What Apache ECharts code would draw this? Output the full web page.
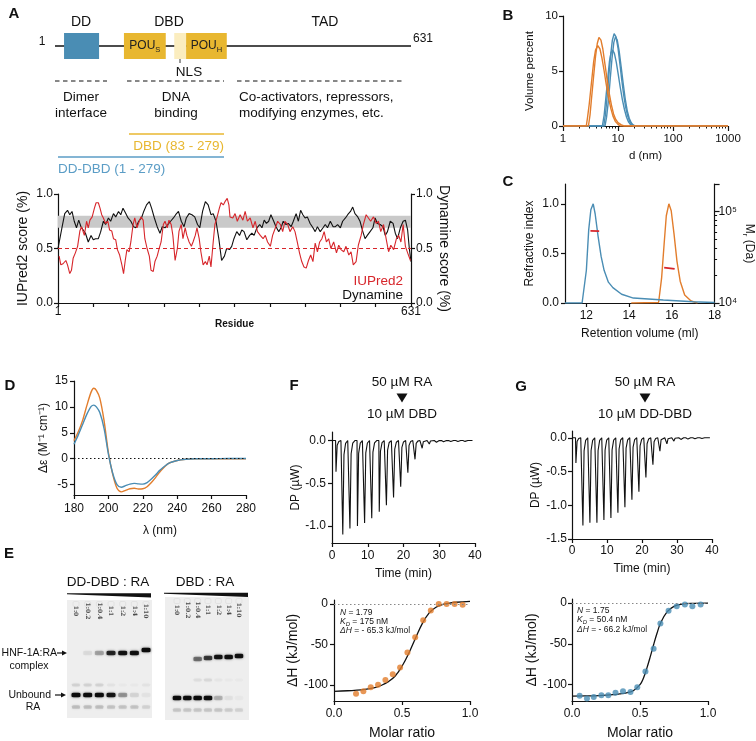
<!DOCTYPE html>
<html>
<head>
<meta charset="utf-8">
<script src="https://cdn.jsdelivr.net/npm/echarts@6/dist/echarts.min.js"></script>
<style>
  html, body { margin: 0; padding: 0; background: #fff; }
  #chart { width: 756px; height: 741px; }
</style>
</head>
<body>
<div id="chart"></div>
<script>
// ---------- data ----------
// A: domain map (residue ranges)
const domainNames = ['DD', 'POU_S', 'NLS', 'POU_H'];
const domainStart = [17, 123, 212, 233];
const domainEnd = [79, 197, 233, 305];

// A: disorder / dynamics profiles
const dynRes = [1, 8, 13, 18, 22, 26, 30, 34, 38, 42, 46, 50, 55, 60, 64, 68, 73, 77, 82, 86,
  91, 95, 100, 104, 109, 113, 117, 122, 126, 131, 136, 140, 145, 150, 154, 159, 164, 168, 173, 178,
  183, 187, 192, 197, 202, 207, 211, 216, 221, 226, 230, 235, 240, 245, 250, 254, 259, 264, 269, 274,
  278, 283, 288, 293, 298, 302, 307,
  311, 315, 320, 325, 329, 333, 338, 343, 347, 351, 356, 361, 365, 369, 373, 377, 381, 386, 390, 395,
  399, 403, 408, 412, 417, 421, 426, 430, 434, 438, 442, 446, 451, 456, 460, 464, 469, 474, 478, 482,
  487, 492, 496, 500, 505, 509, 514, 518, 523, 527, 531, 536, 540, 545, 549, 553, 558, 563, 567, 571,
  576, 581, 585, 589, 594, 599, 603, 607, 612, 617, 621, 625, 628, 631];
const dynScore = [0.50, 0.69, 0.82, 0.85, 0.81, 0.84, 0.75, 0.69, 0.76, 0.70, 0.67, 0.64, 0.56, 0.62, 0.58, 0.59, 0.59, 0.65, 0.75, 0.72,
  0.78, 0.75, 0.82, 0.79, 0.84, 0.81, 0.87, 0.82, 0.78, 0.75, 0.70, 0.69, 0.75, 0.78, 0.84, 0.90, 0.93, 0.87, 0.78, 0.70,
  0.64, 0.70, 0.69, 0.72, 0.75, 0.78, 0.81, 0.84, 0.75, 0.70, 0.78, 0.82, 0.81, 0.79, 0.72, 0.69, 0.84, 0.93, 0.90, 0.81,
  0.82, 0.75, 0.59, 0.39, 0.43, 0.50, 0.49,
  0.52, 0.59, 0.655, 0.62, 0.67, 0.655, 0.58, 0.62, 0.64, 0.62, 0.69, 0.72, 0.69, 0.76, 0.73, 0.75, 0.81, 0.75, 0.70, 0.655,
  0.69, 0.75, 0.72, 0.73, 0.70, 0.75, 0.82, 0.75, 0.85, 0.81, 0.78, 0.79, 0.73, 0.69, 0.655, 0.70, 0.655, 0.69, 0.72, 0.69,
  0.75, 0.70, 0.70, 0.72, 0.69, 0.75, 0.78, 0.81, 0.84, 0.88, 0.82, 0.79, 0.75, 0.655, 0.59, 0.62, 0.655, 0.69, 0.78, 0.73,
  0.72, 0.70, 0.62, 0.655, 0.75, 0.73, 0.64, 0.59, 0.69, 0.75, 0.76, 0.67, 0.50, 0.38];
const iuRes = [3, 6, 10, 15, 18, 22, 25, 28, 32, 36, 40, 43, 48, 52, 55, 58, 62, 66, 69, 73,
  76, 79, 82, 86, 90, 93, 97, 100, 104, 107, 111, 115, 118, 121, 124, 128, 131, 135, 138, 142,
  146, 149, 153, 156, 160, 164, 167, 171, 174, 178, 181, 185, 189, 192, 196, 199, 203, 206, 210, 214,
  217, 221, 224, 228, 231, 235, 239, 242, 246, 249, 253, 256, 260, 264, 267, 271, 274, 278, 281, 285,
  289, 292, 296, 299, 303, 306,
  308, 313, 317, 321, 326, 331, 335, 339, 344, 349, 353, 357, 362, 367, 371, 375, 380, 384, 389, 393,
  398, 402, 406, 411, 415, 420, 424, 428, 432, 436, 440, 444, 448, 452, 456, 460, 464, 468, 472, 476,
  480, 484, 488, 493, 498, 502, 506, 511, 515, 520, 524, 528, 533, 537, 542, 546, 551, 555, 559, 564,
  569, 573, 577, 582, 587, 591, 595, 600, 605, 609, 613, 617, 621, 625, 630];
const iuScore = [0.43, 0.35, 0.36, 0.39, 0.35, 0.27, 0.30, 0.41, 0.46, 0.52, 0.66, 0.70, 0.62, 0.75, 0.69, 0.76, 0.79, 0.87, 0.92, 0.92,
  0.87, 0.81, 0.78, 0.73, 0.75, 0.67, 0.66, 0.59, 0.58, 0.49, 0.44, 0.35, 0.27, 0.39, 0.49, 0.47, 0.56, 0.72, 0.78, 0.69,
  0.75, 0.79, 0.76, 0.59, 0.50, 0.43, 0.30, 0.29, 0.38, 0.43, 0.49, 0.56, 0.72, 0.75, 0.69, 0.76, 0.72, 0.62, 0.39, 0.50,
  0.66, 0.72, 0.59, 0.69, 0.62, 0.56, 0.52, 0.56, 0.62, 0.69, 0.59, 0.47, 0.35, 0.38, 0.35, 0.43, 0.33, 0.56, 0.72, 0.79,
  0.87, 0.92, 0.90, 0.93, 0.96, 0.90,
  0.79, 0.78, 0.82, 0.75, 0.81, 0.76, 0.84, 0.75, 0.78, 0.69, 0.75, 0.655, 0.62, 0.59, 0.62, 0.56, 0.52, 0.62, 0.69, 0.75,
  0.72, 0.655, 0.75, 0.72, 0.655, 0.70, 0.655, 0.56, 0.46, 0.38, 0.33, 0.32, 0.39, 0.44, 0.38, 0.55, 0.47, 0.56, 0.59, 0.655,
  0.56, 0.59, 0.50, 0.56, 0.46, 0.53, 0.49, 0.47, 0.52, 0.44, 0.47, 0.35, 0.38, 0.53, 0.62, 0.72, 0.81, 0.78, 0.75, 0.79,
  0.73, 0.75, 0.655, 0.72, 0.58, 0.47, 0.53, 0.49, 0.59, 0.62, 0.56, 0.72, 0.52, 0.46, 0.39];
const residueTicks = [1, 64, 127, 190, 253, 316, 379, 442, 505, 568, 631];
const residueLabels = [1, 631];

// B: DLS volume distributions [d (nm), volume %]
const dlsDbd1 = [[1, 0], [2.9, 0], [3.1, 1.0], [3.3, 2.5], [3.6, 4.5], [3.9, 6.3], [4.2, 7.5], [4.5, 8.05], [4.9, 7.8], [5.3, 7.0], [5.8, 5.6], [6.3, 4.3], [6.9, 3.0], [7.6, 1.9], [8.3, 1.1], [9.1, 0.6], [10, 0.3], [11.5, 0.1], [13, 0], [1000, 0]];
const dlsDbd2 = [[1, 0], [2.65, 0], [2.8, 0.8], [3.0, 2.0], [3.3, 4.0], [3.6, 5.8], [3.9, 6.9], [4.3, 7.3], [4.7, 7.0], [5.1, 6.2], [5.6, 5.0], [6.1, 3.8], [6.7, 2.6], [7.4, 1.6], [8.1, 0.9], [9, 0.4], [10, 0.15], [11, 0], [1000, 0]];
const dlsDdDbd1 = [[1, 0], [5.5, 0], [5.9, 1.0], [6.3, 2.5], [6.8, 4.5], [7.3, 6.3], [7.9, 7.8], [8.5, 8.4], [9.2, 8.1], [10, 7.1], [10.8, 5.7], [11.7, 4.2], [12.7, 2.8], [13.8, 1.7], [15, 0.9], [16.3, 0.4], [17.7, 0.15], [19.3, 0.05], [21, 0], [1000, 0]];
const dlsDdDbd2 = [[1, 0], [5.8, 0], [6.2, 0.8], [6.7, 2.3], [7.2, 4.2], [7.8, 6.2], [8.4, 7.6], [9.0, 8.1], [9.7, 7.8], [10.5, 6.8], [11.4, 5.4], [12.4, 3.9], [13.5, 2.5], [14.7, 1.4], [16, 0.7], [17.4, 0.3], [19, 0.08], [21, 0], [1000, 0]];
const dlsDdDbd3 = [[1, 0], [5.2, 0], [5.6, 1.0], [6.0, 2.5], [6.5, 4.3], [7.0, 5.9], [7.5, 6.7], [8.0, 6.9], [8.6, 6.6], [9.3, 5.8], [10.1, 4.7], [11, 3.5], [12, 2.4], [13.1, 1.5], [14.3, 0.8], [15.6, 0.35], [17, 0.1], [18.5, 0], [1000, 0]];
const dlsMinorTicks = [2, 3, 4, 5, 6, 7, 8, 9, 20, 30, 40, 50, 60, 70, 80, 90, 200, 300, 400, 500, 600, 700, 800, 900];

// C: SEC-MALS [retention volume (ml), normalised RI] and molar mass [ml, Da]
const secDdDbd = [[11, 0], [11.8, 0], [11.89, 0.01], [12.0, 0.33], [12.11, 0.74], [12.21, 0.94], [12.32, 1.0], [12.41, 0.9], [12.55, 0.67], [12.69, 0.47], [12.83, 0.33], [13.03, 0.21], [13.24, 0.155], [13.65, 0.088], [14.2, 0.05], [15.6, 0.03], [17, 0.012], [18, 0.005]];
const secDbd = [[14.1, 0], [15.38, 0.005], [15.52, 0.25], [15.64, 0.6], [15.74, 0.88], [15.86, 1.0], [15.97, 0.93], [16.1, 0.7], [16.24, 0.42], [16.39, 0.22], [16.6, 0.08], [16.9, 0.02], [17.2, 0]];
const massDdDbd = [[12.19, 61400], [12.6, 61200]];
const massDbd = [[15.64, 24300], [16.13, 23600]];
const massMinorTicks = [20000, 30000, 40000, 50000, 60000, 70000, 80000, 90000, 200000];

// D: CD spectra
const cdLambda = [180, 182.5, 185, 187.5, 190, 191.5, 193, 195, 197.5, 200, 202.5, 205, 207.5, 210, 212.5, 215, 217.5, 220, 222.5, 225, 227.5, 230, 235, 240, 245, 250, 260, 270, 280];
const cdDbd = [3.5, 5.2, 7.4, 10.3, 12.9, 13.6, 13.2, 11.7, 7.3, 1.2, -3.0, -5.7, -6.4, -6.1, -5.8, -5.7, -5.85, -5.8, -5.4, -4.6, -3.6, -2.5, -0.9, -0.35, -0.1, 0, 0, 0, 0];
const cdDdDbd = [2.8, 4.6, 6.6, 8.6, 10.1, 10.35, 10.0, 8.9, 5.8, 0.9, -2.8, -5.0, -5.5, -5.2, -4.9, -4.75, -4.85, -4.9, -4.6, -3.9, -3.1, -2.2, -0.9, -0.35, -0.1, 0, 0, 0.05, 0.05];

// E: EMSA band intensities per lane (0-1) and migration (px from gel top)
const gelLanes = ['1:0', '1:0.2', '1:0.4', '1:1', '1:2', '1:4', '1:10'];
const ddComplex = [0, 0.06, 0.25, 0.8, 0.9, 0.92, 0.95];
const ddComplexMig = [53, 53, 53, 53, 53, 53, 50];
const ddUnbound = [0.95, 0.95, 0.95, 0.9, 0.3, 0.08, 0.03];
const ddUnboundMig = [95, 95, 95, 95, 95, 95, 95];
const ddLow = [0.18, 0.18, 0.18, 0.16, 0.16, 0.16, 0.1];
const ddLowMig = [107, 107, 107, 107, 107, 107, 107];
const ddFaint = [0.1, 0.1, 0.1, 0.04, 0.02, 0.02, 0.04];
const ddFaintMig = [85, 85, 85, 85, 85, 85, 85];
const dbdComplex = [0, 0, 0.45, 0.7, 0.9, 0.92, 0.92];
const dbdComplexMig = [60, 60, 62, 61, 60, 60, 59];
const dbdUnbound = [0.95, 0.95, 0.95, 0.95, 0.2, 0.04, 0.02];
const dbdUnboundMig = [101, 101, 101, 101, 101, 101, 101];
const dbdLow = [0.15, 0.15, 0.15, 0.15, 0.15, 0.12, 0.1];
const dbdLowMig = [113, 113, 113, 113, 113, 113, 113];
const dbdFaint = [0, 0, 0.06, 0.08, 0.03, 0.02, 0.02];
const dbdFaintMig = [83, 83, 83, 83, 83, 83, 83];

// F / G: ITC raw injections (min, peak µW) and integrated heats
const itcFTime = [1.0, 2.9, 4.9, 7.0, 9.0, 11.0, 13.1, 15.1, 17.1, 19.1, 21.1, 23.1, 25.1, 27.1, 29.1, 31.1, 33.1, 35.1, 37.1];
const itcFPeak = [-0.365, -1.10, -1.03, -1.00, -0.965, -0.91, -0.835, -0.757, -0.667, -0.54, -0.376, -0.22, -0.09, -0.04, -0.02, -0.015, -0.012, -0.012, -0.01];
const itcGTime = [1.0, 3.0, 5.0, 7.0, 9.0, 11.0, 13.0, 15.0, 17.0, 19.0, 21.0, 23.0, 25.0, 27.0, 29.0, 31.0, 33.0, 35.0, 37.0];
const itcGPeak = [-0.373, -1.30, -1.26, -1.26, -1.22, -1.19, -1.11, -1.03, -0.92, -0.80, -0.59, -0.40, -0.20, -0.09, -0.05, -0.025, -0.02, -0.015, -0.012];
const fRatio = [0.162, 0.216, 0.27, 0.324, 0.378, 0.432, 0.486, 0.54, 0.597, 0.656, 0.712, 0.77, 0.828, 0.887, 0.946];
const fHeat = [-111, -108, -103, -100, -94, -87, -78.5, -60, -41, -20, -8, 0, 0, 0, -1];
const fFitRatio = [0, 0.1, 0.2, 0.3, 0.35, 0.4, 0.45, 0.5, 0.55, 0.6, 0.65, 0.7, 0.75, 0.8, 0.85, 0.9, 1.0];
const fFitHeat = [-108, -107.3, -106.3, -103.5, -100.5, -96, -89, -77, -61, -42, -24, -11, -4, -0.5, 1.2, 2.2, 3.3];
const gRatio = [0.056, 0.11, 0.16, 0.216, 0.267, 0.32, 0.375, 0.43, 0.48, 0.54, 0.6, 0.65, 0.71, 0.77, 0.83, 0.885, 0.946];
const gHeat = [-113.7, -117, -115, -113, -113, -110, -108, -109, -103, -84, -56, -25, -9.4, -4, -1.6, -4, -1.6];
const gFitRatio = [0, 0.1, 0.2, 0.3, 0.35, 0.4, 0.45, 0.5, 0.525, 0.55, 0.575, 0.6, 0.625, 0.65, 0.7, 0.75, 0.8, 0.9, 1.0];
const gFitHeat = [-114, -113.8, -113.3, -112.3, -111.3, -110, -107.5, -100, -92, -80, -66, -51, -37, -25, -10.5, -4, -1.5, -0.3, 0];

// ---------- style ----------
const FONT = '"Liberation Sans", Arial, Helvetica, sans-serif';
const BLUE = '#4a8db4';
const ORANGE = '#e27d2c';
const RED = '#d7262b';
const GOLD = '#e8b730';
const INK = '#111';

function deepMerge(a, b) {
  for (const k in b) {
    const v = b[k];
    if (v && typeof v === 'object' && !Array.isArray(v) && a[k] && typeof a[k] === 'object' && !Array.isArray(a[k])) {
      deepMerge(a[k], v);
    } else {
      a[k] = v;
    }
  }
  return a;
}

function axis(o, fs, nfs) {
  fs = fs || 12;
  return deepMerge({
    type: 'value',
    axisLine: { show: true, onZero: false, lineStyle: { color: INK, width: 1.2 } },
    axisTick: { show: true, length: 4, lineStyle: { color: INK, width: 1.2 } },
    axisLabel: { color: INK, fontFamily: FONT, fontSize: fs, margin: 6 },
    splitLine: { show: false },
    nameLocation: 'middle',
    nameTextStyle: { color: INK, fontFamily: FONT, fontSize: nfs || fs }
  }, o);
}
function hiddenAxis(o) {
  return Object.assign({ type: 'value', show: false }, o);
}
function tickAxis(o) {
  return deepMerge({
    type: 'value',
    axisLine: { show: false },
    axisLabel: { show: false },
    splitLine: { show: false },
    axisTick: { show: true, length: 2.5, lineStyle: { color: INK, width: 1 } }
  }, o);
}
const fix1 = v => v.toFixed(1);
const zip = (xs, ys) => xs.map((x, i) => [x, ys[i]]);

function lineS(xi, yi, data, color, width, extra) {
  return Object.assign({
    type: 'line', xAxisIndex: xi, yAxisIndex: yi, data: data,
    symbol: 'none', showSymbol: false, silent: true,
    lineStyle: { color: color, width: width || 1.4 }
  }, extra || {});
}

// raw ITC trace: each injection is drawn as a sharp exothermic spike
function itcTrace(times, peaks, tEnd) {
  const pts = [[0, 0]];
  times.forEach((t, i) => {
    const p = peaks[i];
    pts.push([t, 0], [t + 0.12, p], [t + 0.45, p * 0.15], [t + 0.9, p * 0.03], [t + 1.5, 0]);
  });
  pts.push([tEnd, 0]);
  return pts;
}

function bandSeries(xi, yi, intens, mig, size, color) {
  return {
    type: 'scatter', xAxisIndex: xi, yAxisIndex: yi, silent: true,
    symbol: 'roundRect', symbolSize: size, z: 4,
    itemStyle: { color: color || '#050505', shadowBlur: 2.5, shadowColor: 'rgba(0,0,0,0.6)' },
    data: intens.map((v, i) => ({ value: [i + 1, mig[i]], itemStyle: { opacity: v } }))
  };
}
function laneLabelSeries(xi, yi, y) {
  return {
    type: 'scatter', xAxisIndex: xi, yAxisIndex: yi, silent: true, symbolSize: 1, z: 5,
    itemStyle: { color: 'rgba(0,0,0,0)' },
    data: gelLanes.map((l, i) => ({ value: [i + 1, y], name: l })),
    label: { show: true, formatter: '{b}', rotate: -90, position: 'inside',
      fontFamily: '"DejaVu Serif", serif', fontWeight: 'bold', fontSize: 6, color: '#222' }
  };
}
function wellSeries(xi, yi) {
  return {
    type: 'scatter', xAxisIndex: xi, yAxisIndex: yi, silent: true, symbol: 'roundRect',
    symbolSize: [6, 5], z: 3,
    itemStyle: { color: 'rgba(0,0,0,0)', borderColor: '#d6d6d6', borderWidth: 0.6 },
    data: gelLanes.map((l, i) => [i + 1, 4])
  };
}

// ---------- graphic (annotations) ----------
function txt(x, y, text, o) {
  return {
    type: 'text', x: x, y: y, silent: true,
    style: Object.assign({ text: text, fill: INK, fontFamily: FONT, fontSize: 13, align: 'center', verticalAlign: 'middle' }, o || {})
  };
}
function seg(x1, y1, x2, y2, color, w, dash) {
  return {
    type: 'line', silent: true, shape: { x1: x1, y1: y1, x2: x2, y2: y2 },
    style: { stroke: color || INK, lineWidth: w || 1, lineDash: dash || null }
  };
}
function poly(points, fill) {
  return { type: 'polygon', silent: true, shape: { points: points }, style: { fill: fill || INK } };
}
const letter = (x, y, t) => txt(x, y, t, { fontSize: 15, fontWeight: 'bold' });
const italicRich = {
  i: { fontStyle: 'italic', fontSize: 8.5, fontFamily: FONT, fill: '#222' },
  s: { fontStyle: 'italic', fontSize: 6, fontFamily: FONT, fill: '#222', verticalAlign: 'bottom', lineHeight: 11 }
};

const graphics = [
  letter(14, 14, 'A'), letter(508, 16, 'B'), letter(508, 182, 'C'), letter(10, 386, 'D'),
  letter(9, 554, 'E'), letter(294, 386, 'F'), letter(521, 387, 'G'),
  // A diagram labels
  txt(42, 42, '1', { fontSize: 12 }), txt(423, 39, '631', { fontSize: 12 }),
  txt(81, 22, 'DD', { fontSize: 14 }), txt(169, 22, 'DBD', { fontSize: 14 }), txt(325, 22, 'TAD', { fontSize: 14 }),
  seg(180, 50, 180, 63, '#333', 1), txt(189, 72, 'NLS', { fontSize: 13.5 }),
  seg(55, 81, 107, 81, INK, 1, [4.5, 3.5]), seg(127, 81, 224, 81, INK, 1, [4.5, 3.5]), seg(237, 81, 403, 81, INK, 1, [4.5, 3.5]),
  txt(81, 97, 'Dimer', { fontSize: 13.5 }), txt(81, 113, 'interface', { fontSize: 13.5 }),
  txt(176, 97, 'DNA', { fontSize: 13.5 }), txt(176, 113, 'binding', { fontSize: 13.5 }),
  txt(239, 97, 'Co-activators, repressors,', { fontSize: 13.5, align: 'left' }),
  txt(239, 113, 'modifying enzymes, etc.', { fontSize: 13.5, align: 'left' }),
  seg(129, 134, 224, 134, GOLD, 1.5), txt(224, 146, 'DBD (83 - 279)', { fontSize: 13.5, align: 'right', fill: GOLD }),
  seg(58, 157, 224, 157, '#5b9dc6', 1.5), txt(58, 169, 'DD-DBD (1 - 279)', { fontSize: 13.5, align: 'left', fill: '#5b9dc6' }),
  txt(403, 281, 'IUPred2', { fontSize: 13.5, align: 'right', fill: RED }),
  txt(403, 295, 'Dynamine', { fontSize: 13.5, align: 'right' }),
  // E gel annotations
  txt(108, 582, 'DD-DBD : RA', { fontSize: 13.5 }), txt(205, 582, 'DBD : RA', { fontSize: 13.5 }),
  poly([[67, 593.3], [151, 593.3], [151, 597.6], [67, 594.2]], INK),
  poly([[164, 592.8], [248, 592.8], [248, 597.1], [164, 593.7]], INK),
  txt(57, 653, 'HNF-1A:RA', { fontSize: 10.5, align: 'right' }), txt(29, 666, 'complex', { fontSize: 10.5 }),
  seg(57, 653, 63, 653, INK, 1.2), poly([[62, 650.5], [67, 653], [62, 655.5]]),
  txt(51, 695, 'Unbound', { fontSize: 10.5, align: 'right' }), txt(33, 707, 'RA', { fontSize: 10.5 }),
  seg(55, 695, 62, 695, INK, 1.2), poly([[61, 692.5], [66, 695], [61, 697.5]]),
  // F / G headers
  txt(402, 382, '50 µM RA', { fontSize: 13.5 }), poly([[396.5, 393.5], [407.5, 393.5], [402, 402.5]]),
  txt(402, 414, '10 µM DBD', { fontSize: 13.5 }),
  txt(645, 382, '50 µM RA', { fontSize: 13.5 }), poly([[639.5, 393.5], [650.5, 393.5], [645, 402.5]]),
  txt(645, 414, '10 µM DD-DBD', { fontSize: 13.5 }),
  // ITC fit parameters
  txt(340, 613, '{i|N} = 1.79', { fontSize: 8.5, align: 'left', rich: italicRich }),
  txt(340, 622, '{i|K}{s|D} = 175 nM', { fontSize: 8.5, align: 'left', rich: italicRich }),
  txt(340, 631, '{i|ΔH} = - 65.3 kJ/mol', { fontSize: 8.5, align: 'left', rich: italicRich }),
  txt(577, 611, '{i|N} = 1.75', { fontSize: 8.5, align: 'left', rich: italicRich }),
  txt(577, 620, '{i|K}{s|D} = 50.4 nM', { fontSize: 8.5, align: 'left', rich: italicRich }),
  txt(577, 630, '{i|ΔH} = - 66.2 kJ/mol', { fontSize: 8.5, align: 'left', rich: italicRich })
];

// ---------- option ----------
const domainColors = [BLUE, GOLD, '#fbedbf', GOLD];
const domainText = ['', 'POU{s|S}', '', 'POU{s|H}'];

const option = {
  animation: false,
  backgroundColor: '#fff',
  grid: [
    { left: 55, top: 33, width: 356, height: 26 },                 // 0 A diagram
    { left: 58, top: 194, width: 353, height: 109 },               // 1 A profile
    { left: 563, top: 16, width: 165, height: 110 },               // 2 B
    { left: 565, top: 184, width: 161, height: 119 },              // 3 C
    { left: 74, top: 381, width: 172, height: 114 },               // 4 D
    { left: 67, top: 600, width: 85, height: 118, show: true, backgroundColor: '#eeeeee', borderWidth: 0 },  // 5 gel L
    { left: 165, top: 597, width: 84, height: 123, show: true, backgroundColor: '#eeeeee', borderWidth: 0 }, // 6 gel R
    { left: 332, top: 432, width: 143, height: 111 },              // 7 F raw
    { left: 334, top: 600, width: 136, height: 106 },              // 8 F isotherm
    { left: 572, top: 431, width: 140, height: 108 },              // 9 G raw
    { left: 572, top: 599, width: 136, height: 107 }               // 10 G isotherm
  ],
  xAxis: [
    hiddenAxis({ gridIndex: 0, min: 1, max: 631 }),
    axis({ gridIndex: 1, min: 1, max: 631, position: 'bottom', name: 'Residue', nameGap: 14,
      nameTextStyle: { fontSize: 10, fontWeight: 'bold' },
      axisTick: { customValues: residueTicks }, axisLabel: { customValues: residueLabels, margin: 3 } }, 12),
    axis({ type: 'log', logBase: 10, gridIndex: 2, min: 1, max: 1000, position: 'bottom', name: 'd (nm)', nameGap: 24,
      axisTick: { length: 5 }, axisLabel: { formatter: v => String(Math.round(v)), margin: 7 } }, 11.5),
    tickAxis({ gridIndex: 2, min: 0, max: 3, position: 'bottom', axisTick: { customValues: dlsMinorTicks.map(v => Math.log10(v)) } }),
    axis({ gridIndex: 3, min: 11, max: 18, position: 'bottom', name: 'Retention volume (ml)', nameGap: 25,
      axisTick: { customValues: [12, 14, 16, 18] }, axisLabel: { customValues: [12, 14, 16, 18], margin: 7 } }, 12),
    axis({ gridIndex: 4, min: 180, max: 280, interval: 20, position: 'bottom', name: 'λ (nm)', nameGap: 30,
      axisLabel: { margin: 8 } }, 12),
    hiddenAxis({ gridIndex: 5, min: 0.23, max: 7.51 }),
    hiddenAxis({ gridIndex: 6, min: -0.16, max: 7.97 }),
    axis({ gridIndex: 7, min: 0, max: 40, interval: 10, position: 'bottom', name: 'Time (min)', nameGap: 25,
      axisLabel: { margin: 7 } }, 12),
    axis({ gridIndex: 8, min: 0, max: 1, interval: 0.5, position: 'bottom', name: 'Molar ratio', nameGap: 25,
      axisLabel: { formatter: fix1, margin: 7 }, nameTextStyle: { fontSize: 14 } }, 12),
    axis({ gridIndex: 9, min: 0, max: 40, interval: 10, position: 'bottom', name: 'Time (min)', nameGap: 24,
      axisLabel: { margin: 6 } }, 12),
    axis({ gridIndex: 10, min: 0, max: 1, interval: 0.5, position: 'bottom', name: 'Molar ratio', nameGap: 25,
      axisLabel: { formatter: fix1, margin: 7 }, nameTextStyle: { fontSize: 14 } }, 12)
  ],
  yAxis: [
    hiddenAxis({ gridIndex: 0, min: 0, max: 1 }),
    axis({ gridIndex: 1, min: 0, max: 1, interval: 0.5, position: 'left', name: 'IUPred2 score (%)', nameGap: 28,
      axisLabel: { formatter: fix1, margin: 5 }, nameTextStyle: { fontSize: 14 } }, 12),
    axis({ gridIndex: 1, min: 0, max: 1, interval: 0.5, position: 'right', name: 'Dynamine score (%)', nameGap: 26,
      nameRotate: -90, axisLabel: { formatter: fix1, margin: 5 }, nameTextStyle: { fontSize: 14 } }, 12),
    axis({ gridIndex: 2, min: 0, max: 10, interval: 5, position: 'left', name: 'Volume percent', nameGap: 27,
      axisLabel: { margin: 5 } }, 11.5),
    axis({ gridIndex: 3, min: 0, max: 1.2, position: 'left', name: 'Refractive index', nameGap: 29,
      axisTick: { customValues: [0, 0.5, 1] }, axisLabel: { customValues: [0, 0.5, 1], formatter: fix1 } }, 12),
    axis({ type: 'log', logBase: 10, gridIndex: 3, min: 10000, max: 200000, position: 'right',
      name: 'M{sub|r} (Da)', nameGap: 21, nameRotate: -90, axisTick: { length: 5 },
      nameTextStyle: { rich: { sub: { fontSize: 8, verticalAlign: 'bottom', lineHeight: 16, fontFamily: FONT } } },
      axisLabel: { margin: 4, formatter: v => { const e = Math.round(Math.log10(v)); return Math.abs(Math.log10(v) - e) < 1e-6 && (e === 4 || e === 5) ? '10' + (e === 4 ? '⁴' : '⁵') : ''; } } }, 12),
    tickAxis({ gridIndex: 3, min: 4, max: Math.log10(200000), position: 'right', axisTick: { customValues: massMinorTicks.map(v => Math.log10(v)) } }),
    axis({ gridIndex: 4, min: -7, max: 15, position: 'left', name: 'Δε (M⁻¹ cm⁻¹)', nameGap: 24,
      axisTick: { customValues: [-5, 0, 5, 10, 15] }, axisLabel: { customValues: [-5, 0, 5, 10, 15] } }, 12),
    hiddenAxis({ gridIndex: 5, min: 0, max: 118, inverse: true }),
    hiddenAxis({ gridIndex: 6, min: 0, max: 123, inverse: true }),
    axis({ gridIndex: 7, min: -1.2, max: 0.1, position: 'left', name: 'DP (µW)', nameGap: 28,
      axisTick: { customValues: [-1, -0.5, 0] }, axisLabel: { customValues: [-1, -0.5, 0], formatter: fix1 } }, 12),
    axis({ gridIndex: 8, min: -120, max: 5, position: 'left', name: 'ΔH (kJ/mol)', nameGap: 28,
      axisTick: { customValues: [-100, -50, 0] }, axisLabel: { customValues: [-100, -50, 0] }, nameTextStyle: { fontSize: 14 } }, 12),
    axis({ gridIndex: 9, min: -1.5, max: 0.1, position: 'left', name: 'DP (µW)', nameGap: 30,
      axisTick: { customValues: [-1.5, -1, -0.5, 0] }, axisLabel: { customValues: [-1.5, -1, -0.5, 0], formatter: fix1, margin: 5 } }, 12),
    axis({ gridIndex: 10, min: -120, max: 5, position: 'left', name: 'ΔH (kJ/mol)', nameGap: 31,
      axisTick: { customValues: [-100, -50, 0] }, axisLabel: { customValues: [-100, -50, 0], margin: 5 }, nameTextStyle: { fontSize: 14 } }, 12)
  ],
  graphic: { elements: graphics },
  series: [
    // A diagram
    lineS(0, 0, [[1, 0.5], [631, 0.5]], INK, 1.5, { z: 1 }),
    {
      type: 'custom', xAxisIndex: 0, yAxisIndex: 0, silent: true, z: 3,
      data: domainNames.map((n, i) => [domainStart[i], domainEnd[i], i]),
      renderItem: function (params, api) {
        const i = api.value(2);
        const p0 = api.coord([api.value(0), 1]);
        const p1 = api.coord([api.value(1), 0]);
        return {
          type: 'group',
          children: [
            { type: 'rect', shape: { x: p0[0], y: p0[1], width: p1[0] - p0[0], height: p1[1] - p0[1] },
              style: { fill: domainColors[i] } },
            { type: 'text', x: (p0[0] + p1[0]) / 2, y: (p0[1] + p1[1]) / 2,
              style: { text: domainText[i], fill: '#222', fontFamily: FONT, fontSize: 12, align: 'center', verticalAlign: 'middle',
                rich: { s: { fontSize: 7.5, fontFamily: FONT, fill: '#222', verticalAlign: 'bottom', lineHeight: 16 } } } }
          ]
        };
      }
    },
    // A profiles
    lineS(1, 2, zip(dynRes, dynScore), INK, 1.1, { z: 3 }),
    lineS(1, 1, zip(iuRes, iuScore), RED, 1.1, {
      z: 4,
      markArea: { silent: true, itemStyle: { color: '#c9c9c9' }, data: [[{ yAxis: 0.69 }, { yAxis: 0.8 }]] },
      markLine: { silent: true, symbol: 'none', label: { show: false }, lineStyle: { color: RED, type: [4, 3], width: 1 },
        data: [{ yAxis: 0.5 }] }
    }),
    // B
    lineS(2, 3, dlsDdDbd3, BLUE, 1.4),
    lineS(2, 3, dlsDdDbd2, BLUE, 1.4),
    lineS(2, 3, dlsDdDbd1, BLUE, 1.4),
    lineS(2, 3, dlsDbd2, ORANGE, 1.4),
    lineS(2, 3, dlsDbd1, ORANGE, 1.4),
    // C
    lineS(4, 4, secDbd, ORANGE, 1.4),
    lineS(4, 4, secDdDbd, BLUE, 1.4),
    lineS(4, 5, massDdDbd, RED, 1.8, { z: 5 }),
    lineS(4, 5, massDbd, RED, 1.8, { z: 5 }),
    // D
    lineS(5, 7, zip(cdLambda, cdDbd), ORANGE, 1.4, { smooth: 0.3 }),
    lineS(5, 7, zip(cdLambda, cdDdDbd), BLUE, 1.4, {
      smooth: 0.3,
      markLine: { silent: true, symbol: 'none', label: { show: false }, lineStyle: { color: INK, type: [1.5, 2.5], width: 1 },
        data: [{ yAxis: 0 }] }
    }),
    // E gels
    wellSeries(6, 8), wellSeries(7, 9),
    bandSeries(6, 8, ddFaint, ddFaintMig, [8, 3], '#333'),
    bandSeries(6, 8, ddLow, ddLowMig, [8, 3.5], '#333'),
    bandSeries(6, 8, ddUnbound, ddUnboundMig, [9, 4.5]),
    bandSeries(6, 8, ddComplex, ddComplexMig, [9, 4.5]),
    bandSeries(7, 9, dbdFaint, dbdFaintMig, [8, 3], '#333'),
    bandSeries(7, 9, dbdLow, dbdLowMig, [8, 3.5], '#333'),
    bandSeries(7, 9, dbdUnbound, dbdUnboundMig, [8.5, 4.5]),
    bandSeries(7, 9, dbdComplex, dbdComplexMig, [8.5, 4.5]),
    laneLabelSeries(6, 8, 11), laneLabelSeries(7, 9, 13),
    // F
    lineS(8, 10, itcTrace(itcFTime, itcFPeak, 39.3), INK, 1.1),
    lineS(9, 11, zip(fFitRatio, fFitHeat), INK, 1.3, {
      smooth: 0.4, z: 3,
      markLine: { silent: true, symbol: 'none', label: { show: false }, lineStyle: { color: '#888', type: [1.5, 2.5], width: 1.2 },
        data: [{ yAxis: 0 }] }
    }),
    { type: 'scatter', xAxisIndex: 9, yAxisIndex: 11, silent: true, symbolSize: 6, z: 4,
      itemStyle: { color: ORANGE }, data: zip(fRatio, fHeat) },
    // G
    lineS(10, 12, itcTrace(itcGTime, itcGPeak, 39.4), INK, 1.1),
    lineS(11, 13, zip(gFitRatio, gFitHeat), INK, 1.3, {
      smooth: 0.4, z: 3,
      markLine: { silent: true, symbol: 'none', label: { show: false }, lineStyle: { color: '#888', type: [1.5, 2.5], width: 1.2 },
        data: [{ yAxis: 0 }] }
    }),
    { type: 'scatter', xAxisIndex: 11, yAxisIndex: 13, silent: true, symbolSize: 6, z: 4,
      itemStyle: { color: BLUE }, data: zip(gRatio, gHeat) }
  ]
};

const chart = echarts.init(document.getElementById('chart'));
chart.setOption(option);
</script>
</body>
</html>
